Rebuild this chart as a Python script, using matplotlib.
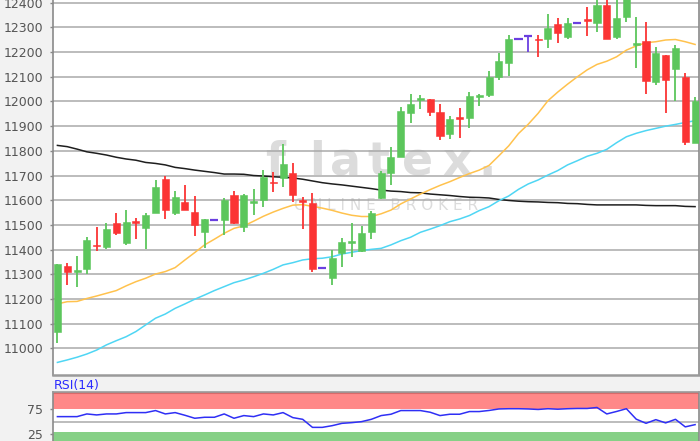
import numpy as np
import matplotlib
matplotlib.use("Agg")
import matplotlib.pyplot as plt

# ---------------- data ----------------
opens = [11067, 11333, 11310, 11320, 11420, 11409, 11506, 11428, 11517, 11487,
         11547, 11684, 11549, 11591, 11554, 11473, 11520, 11520, 11621, 11493,
         11588, 11601, 11675, 11689, 11711, 11600, 11587, 11324, 11283, 11387,
         11428, 11394, 11473, 11608, 11709, 11776, 11954, 12006, 12010, 11959,
         11868, 11936, 11932, 12019, 12026, 12098, 12157, 12251, 12266, 12253,
         12251, 12314, 12262, 12319, 12333, 12319, 12391, 12260, 12341, 12228,
         12243, 12078, 12188, 12130, 12100, 11830]
highs = [11342, 11347, 11374, 11450, 11493, 11506, 11549, 11560, 11527, 11547,
         11682, 11698, 11639, 11662, 11617, 11522, 11520, 11608, 11639, 11625,
         11644, 11722, 11716, 11828, 11749, 11612, 11628, 11324, 11398, 11446,
         11506, 11495, 11557, 11720, 11817, 11979, 12030, 12026, 12010, 11990,
         11941, 11972, 12040, 12031, 12123, 12198, 12269, 12251, 12269, 12269,
         12354, 12337, 12337, 12319, 12381, 12415, 12430, 12425, 12460, 12343,
         12323, 12222, 12188, 12228, 12114, 12019]
lows = [11020, 11257, 11247, 11301, 11396, 11401, 11459, 11418, 11442, 11401,
        11547, 11522, 11540, 11560, 11455, 11405, 11520, 11459, 11504, 11472,
        11540, 11574, 11635, 11652, 11594, 11482, 11310, 11324, 11257, 11328,
        11371, 11391, 11442, 11603, 11662, 11776, 11914, 11968, 11941, 11844,
        11847, 11850, 11891, 11981, 12019, 12087, 12103, 12251, 12202, 12181,
        12215, 12235, 12251, 12319, 12265, 12283, 12251, 12251, 12323, 12134,
        12029, 12067, 11954, 12003, 11824, 11830]
closes = [11342, 11310, 11318, 11439, 11415, 11482, 11466, 11512, 11509, 11539,
          11655, 11560, 11612, 11560, 11500, 11522, 11520, 11601, 11509, 11621,
          11595, 11695, 11668, 11745, 11621, 11594, 11320, 11324, 11364, 11432,
          11436, 11469, 11549, 11711, 11774, 11963, 11990, 12015, 11959, 11860,
          11927, 11930, 12022, 12027, 12100, 12164, 12251, 12251, 12266, 12248,
          12296, 12279, 12319, 12319, 12327, 12391, 12251, 12337, 12440, 12238,
          12083, 12196, 12087, 12218, 11837, 12000]

ma_fast = [11180, 11189, 11190, 11202, 11212, 11223, 11234, 11253, 11270, 11284,
           11301, 11311, 11327, 11358, 11388, 11419, 11442, 11466, 11486, 11496,
           11515, 11535, 11552, 11567, 11580, 11582, 11575, 11568, 11559, 11548,
           11539, 11534, 11534, 11545, 11560, 11585, 11605, 11625, 11643, 11660,
           11675, 11692, 11708, 11722, 11741, 11780, 11820, 11870, 11908, 11952,
           12003, 12038, 12070, 12100, 12128, 12150, 12163, 12181, 12208, 12225,
           12238, 12242, 12249, 12251, 12242, 12231]
ma_mid = [10943, 10953, 10964, 10977, 10993, 11014, 11031, 11047, 11068, 11095,
          11122, 11139, 11162, 11180, 11199, 11216, 11234, 11250, 11266, 11277,
          11290, 11304, 11320, 11338, 11347, 11358, 11363, 11365, 11371, 11382,
          11389, 11396, 11401, 11405, 11419, 11436, 11450, 11470, 11483, 11497,
          11513, 11524, 11538, 11558, 11574, 11598, 11617, 11644, 11666, 11682,
          11702, 11720, 11743, 11760, 11778, 11790, 11806, 11833, 11857, 11871,
          11882, 11891, 11900, 11907, 11915, 11922]
ma_slow = [11822, 11817, 11807, 11796, 11790, 11783, 11774, 11767, 11762, 11753,
           11749, 11743, 11733, 11728, 11722, 11717, 11712, 11706, 11706, 11705,
           11700, 11698, 11695, 11693, 11690, 11685, 11678, 11671, 11666, 11662,
           11657, 11652, 11647, 11641, 11637, 11635, 11631, 11630, 11625, 11622,
           11619, 11615, 11612, 11611, 11609, 11603, 11599, 11596, 11594, 11593,
           11591, 11590, 11587, 11586, 11583, 11581, 11581, 11581, 11581, 11581,
           11579, 11578, 11578, 11578, 11575, 11574]

rsi = [60.1, 60.1, 60.1, 65.5, 63.5, 65.5, 65.5, 68.2, 68.2, 68.2,
       72.3, 65.5, 68.2, 62.8, 56.8, 58.8, 58.8, 65.5, 56.8, 62.2,
       60.1, 65.5, 63.5, 68.2, 58.1, 54.7, 38.5, 38.5, 41.9, 46.6,
       48.0, 50.0, 54.7, 62.2, 64.9, 72.3, 72.3, 72.3, 68.9, 62.2,
       64.9, 64.9, 70.3, 70.3, 72.5, 75.5, 76.0, 76.0, 75.5, 74.5,
       76.0, 75.0, 76.0, 76.5, 76.5, 78.5, 65.5, 70.5, 76.0, 55.0,
       46.7, 54.0, 47.5, 54.7, 39.5, 44.0]

price_ticks = list(range(11000, 12401, 100))
rsi_ticks = [25, 75]
rsi_label = "RSI(14)"
watermark = "flatex."
watermark_sub = "O N L I N E   B R O K E R"

# ---------------- style ----------------
UP = "#5cc65c"
DOWN = "#fb3434"
FLAT = "#6a3fe0"
BG = "#f2f2f2"
GRID = "#a9a9a9"
TXT = "#555555"
WM = "#dcdcdc"

W, H = 700, 441
fig = plt.figure(figsize=(W / 100, H / 100), dpi=100, facecolor=BG)
ax = fig.add_axes([53 / W, 66 / H, 646 / W, 375 / H])
ax2 = fig.add_axes([53 / W, 0, 646 / W, 48.7 / H])

x = np.arange(len(opens))
o = np.array(opens, float)
h = np.array(highs, float)
l = np.array(lows, float)
c = np.array(closes, float)

ax.set_facecolor("white")
ax.set_xlim(-0.45, len(x) - 0.6)
ax.set_ylim(10892, 12411)

# gridlines
for t in price_ticks:
    ax.axhline(t, color=GRID, lw=1.1, zorder=1)

# watermark (letter-spaced logo text)
wm_pos = [0.344, 0.409, 0.453, 0.503, 0.565, 0.626, 0.672]
for ch, px in zip(watermark, wm_pos):
    ax.text(px, 0.533, ch, transform=ax.transAxes, ha="center",
            va="baseline", fontsize=33, color=WM, family="DejaVu Sans",
            fontweight="bold", zorder=0.5)
ax.text(0.515, 0.453, watermark_sub, transform=ax.transAxes, ha="center",
        va="center", fontsize=11, color=WM, zorder=0.5)

# moving averages
ax.plot(x, ma_slow, color="#1e1e1e", lw=1.1, zorder=2)
ax.plot(x, ma_mid, color="#4fd6f4", lw=1.1, zorder=2)
ax.plot(x, ma_fast, color="#ffc24d", lw=1.1, zorder=2)

# candles
colors = np.where(c > o, UP, np.where(c < o, DOWN, FLAT))
ax.vlines(x, l, h, colors=colors, lw=1.3, zorder=3)
body_lo = np.minimum(o, c)
body_h = np.abs(c - o)
mask = body_h > 0
ax.bar(x[mask], body_h[mask], bottom=body_lo[mask], width=0.72,
       color=colors[mask], edgecolor=colors[mask], lw=0.4, zorder=4)
ax.hlines(o[~mask], x[~mask] - 0.42, x[~mask] + 0.42, colors=FLAT, lw=1.6,
          zorder=4)

ax.set_xticks([])
ax.set_yticks(price_ticks)
ax.set_yticklabels([str(t) for t in price_ticks])
ax.tick_params(axis="y", length=2.5, width=1, color="#888888", pad=4.5,
               labelsize=9, labelcolor=TXT)
for s in ["left", "right"]:
    ax.spines[s].set_color("#8a8a8a")
    ax.spines[s].set_linewidth(1.2)
ax.spines["bottom"].set_color("#9a9a9a")
ax.spines["bottom"].set_linewidth(1.8)
ax.spines["top"].set_visible(False)

# ---------------- RSI panel ----------------
ax2.set_facecolor("white")
ax2.set_xlim(ax.get_xlim())
ax2.set_ylim(11.1, 109)
ax2.axhspan(75, 109, color="#ff8888", lw=0, zorder=0.5)
ax2.axhline(108, color="#d86a6a", lw=1.5, zorder=0.6)
ax2.axhspan(0, 29.5, color="#86d086", lw=0, zorder=0.5)
ax2.axhline(50, color=GRID, lw=1.1, zorder=1)
ax2.plot(x, rsi, color="#2f2ff5", lw=1.1, zorder=3)
ax2.set_xticks([])
ax2.set_yticks(rsi_ticks)
ax2.tick_params(axis="y", length=2.5, width=1, color="#888888", pad=4.5,
                labelsize=9, labelcolor=TXT)
for s in ["left", "right"]:
    ax2.spines[s].set_color("#8a8a8a")
    ax2.spines[s].set_linewidth(1.2)
ax2.spines["top"].set_color("#9a9a9a")
ax2.spines["top"].set_linewidth(1.2)
ax2.spines["bottom"].set_visible(False)

fig.text(54 / W, 1 - 385.5 / H, rsi_label, color="#2a2aff", fontsize=9,
         ha="left", va="center", family="DejaVu Sans")

fig.savefig("out.png", dpi=100, facecolor=BG)
